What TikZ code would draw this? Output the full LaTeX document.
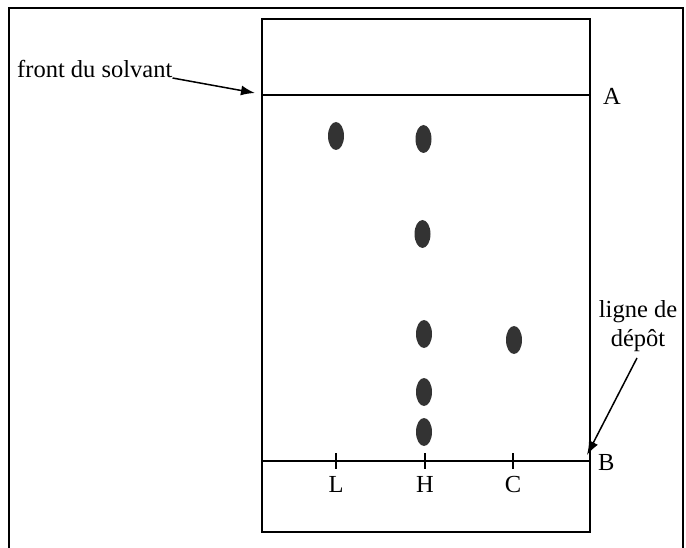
\documentclass[tikz,border=0pt]{standalone}
\usepackage{fontspec}
\setmainfont{Liberation Serif}
\usetikzlibrary{shapes.geometric,arrows.meta}
\begin{document}
\begin{tikzpicture}[x=1pt,y=-1pt,
  frameline/.style={line width=2.2pt,black},
  plateline/.style={line width=2pt,black},
  spot/.style={ellipse,fill=black!80,draw=none,inner sep=0pt,minimum width=16pt,minimum height=28pt},
  lbl/.style={font=\fontsize{24.5}{29}\selectfont,inner sep=0pt},
  ptr/.style={line width=1.5pt,-{Latex[length=14pt,width=10pt]}}
]
\useasboundingbox (0,0) rectangle (686,548);
% outer frame
\draw[frameline] (9,560) -- (9,8) -- (683,8) -- (683,560);
% plate
\coordinate (pTL) at (262,19);
\coordinate (pBR) at (590,532);
\draw[plateline] (pTL) rectangle (pBR);
% lines A and B
\coordinate (aL) at (262,95);
\coordinate (aR) at (590,95);
\coordinate (bL) at (262,461);
\coordinate (bR) at (590,461);
\draw[plateline] (aL) -- (aR);
\draw[plateline] (bL) -- (bR);
% ticks
\foreach \n/\x in {tL/336,tH/425,tC/513}{
  \coordinate (\n1) at (\x,453);
  \coordinate (\n2) at (\x,469);
  \draw[plateline] (\n1) -- (\n2);
}
% labels
\node[lbl,anchor=base] (L) at (336,492) {L};
\node[lbl,anchor=base] (H) at (425,492) {H};
\node[lbl,anchor=base] (C) at (513,492) {C};
\node[lbl,anchor=base west] (A) at (603,105) {A};
\node[lbl,anchor=base west] (B) at (598,470) {B};
% spots
\node[spot] (s1) at (336,136) {};
\node[spot] (s2) at (423.5,139) {};
\node[spot] (s3) at (422.5,234) {};
\node[spot] (s4) at (424,334) {};
\node[spot] (s5) at (514,340) {};
\node[spot] (s6) at (424,392) {};
\node[spot] (s7) at (424,432) {};
% front du solvant
\node[lbl,anchor=base west] (front) at (17,78) {front du solvant};
\coordinate (frontTip) at (255,93);
\draw[ptr] (front.base east) -- (frontTip);
% ligne de depot
\node[lbl,anchor=base] (ligne) at (638,318) {ligne de};
\node[lbl,anchor=base] (depot) at (638,347) {dépôt};
\coordinate (depotStart) at (637,358);
\coordinate (depotTip) at (587,455);
\draw[ptr] (depotStart) -- (depotTip);
\end{tikzpicture}
\end{document}
